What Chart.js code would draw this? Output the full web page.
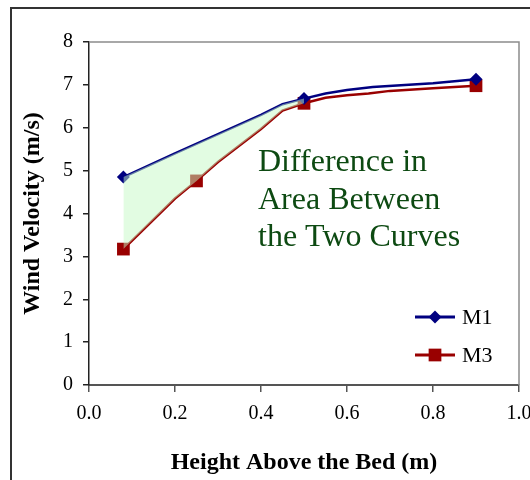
<!DOCTYPE html>
<html>
<head>
<meta charset="utf-8">
<script src="https://cdn.jsdelivr.net/npm/chart.js@4/dist/chart.umd.min.js"></script>
<style>
  body { margin: 0; background: #fff; }
  canvas { display: block; }
</style>
</head>
<body>
<canvas id="chart" width="530" height="480"></canvas>
<script>
// data
const m1X = [0.08, 0.2, 0.3, 0.4, 0.45, 0.5, 0.55, 0.6, 0.66, 0.8, 0.9];
const m1Y = [4.85, 5.4, 5.85, 6.3, 6.55, 6.68, 6.8, 6.88, 6.95, 7.04, 7.13];
const m1Markers = [0.08, 0.5, 0.9];

const m3X = [0.08, 0.2, 0.25, 0.3, 0.4, 0.45, 0.5, 0.55, 0.6, 0.65, 0.7, 0.8, 0.9];
const m3Y = [3.17, 4.35, 4.76, 5.2, 5.97, 6.4, 6.57, 6.7, 6.76, 6.8, 6.86, 6.92, 6.98];
const m3Markers = [0.08, 0.25, 0.5, 0.9];

const shadeEnd = 0.5; // shaded region runs from the first point to here
const xTicks = [0, 0.2, 0.4, 0.6, 0.8, 1.0];
const yTicks = [0, 1, 2, 3, 4, 5, 6, 7, 8];
const noteLines = ["Difference in", "Area Between", "the Two Curves"];

const SERIF = "'Liberation Serif', 'Times New Roman', serif";

function pts(xs, ys) {
    return xs.map((x, i) => ({ x: x, y: ys[i] }));
}

// marker only where the picture shows one
function radii(xs, marks, r) {
    return xs.map(x => marks.includes(x) ? r : 0);
}

const m1 = {
    label: "M1",
    data: pts(m1X, m1Y),
    borderColor: "#000080",
    backgroundColor: "#000080",
    borderWidth: 2.5,
    pointStyle: "rectRot",
    pointRadius: radii(m1X, m1Markers, 6.5),
    pointBorderWidth: 0,
    fill: false,
    order: 1
};
const m3 = {
    label: "M3",
    data: pts(m3X, m3Y),
    borderColor: "#990000",
    backgroundColor: "#990000",
    borderWidth: 2.5,
    pointStyle: "rect",
    pointRadius: radii(m3X, m3Markers, 9),
    pointBorderWidth: 0,
    fill: false,
    order: 2
};

// boundaries of the shaded region, taken from the two series
// drawn last and half transparent so the markers under it get tinted
const shadeTop = {
    label: "_top",
    data: pts(m1X, m1Y).filter(p => p.x <= shadeEnd),
    borderWidth: 0,
    pointRadius: 0,
    backgroundColor: "rgba(198,250,198,0.5)",
    fill: "+1",
    order: 0
};
const shadeBottom = {
    label: "_bottom",
    data: pts(m3X, m3Y).filter(p => p.x <= shadeEnd),
    borderWidth: 0,
    pointRadius: 0,
    fill: false,
    order: 4
};

/* ===== frame, plot border, note text and legend ===== */
const decorations = {
    id: "decorations",
    beforeDraw(chart) {
        const ctx = chart.ctx;
        ctx.save();
        ctx.fillStyle = "#fff";
        ctx.fillRect(0, 0, chart.width, chart.height);
        // outer frame
        ctx.strokeStyle = "#333";
        ctx.lineWidth = 2;
        ctx.beginPath();
        ctx.moveTo(11, chart.height + 5);
        ctx.lineTo(11, 8);
        ctx.lineTo(chart.width + 5, 8);
        ctx.stroke();
        ctx.restore();
    },
    afterDatasetsDraw(chart) {
        const ctx = chart.ctx;
        const a = chart.chartArea;
        ctx.save();
        // grey top and right border of the plot
        ctx.strokeStyle = "#8c8c8c";
        ctx.lineWidth = 1.5;
        ctx.beginPath();
        ctx.moveTo(a.left, a.top);
        ctx.lineTo(a.right, a.top);
        ctx.lineTo(a.right, a.bottom);
        ctx.stroke();

        // note text
        ctx.fillStyle = "#0d4a12";
        ctx.font = "32px " + SERIF;
        ctx.textBaseline = "middle";
        ctx.textAlign = "left";
        noteLines.forEach((t, i) => ctx.fillText(t, 258, 163 + i * 37.5));

        // legend
        const items = [m1, m3];
        ctx.font = "22px " + SERIF;
        items.forEach((ds, i) => {
            const y = 317 + i * 38;
            ctx.strokeStyle = ds.borderColor;
            ctx.lineWidth = 3;
            ctx.beginPath();
            ctx.moveTo(415, y);
            ctx.lineTo(455, y);
            ctx.stroke();
            ctx.fillStyle = ds.backgroundColor;
            Chart.helpers.drawPoint(ctx, { pointStyle: ds.pointStyle, radius: ds.pointStyle === "rect" ? 9 : 6.5, borderWidth: 0 }, 435, y);
            ctx.fillStyle = "#000";
            ctx.fillText(ds.label, 462, y + 1);
        });
        ctx.restore();
    }
};

new Chart(document.getElementById("chart"), {
    type: "line",
    data: { datasets: [m1, m3, shadeTop, shadeBottom] },
    options: {
        responsive: false,
        animation: false,
        devicePixelRatio: 1,
        layout: { padding: { left: 0, top: 42, right: 11, bottom: 0 } },
        plugins: { legend: { display: false }, tooltip: { enabled: false } },
        elements: { line: { tension: 0 } },
        scales: {
            x: {
                type: "linear",
                min: 0,
                max: 1,
                afterBuildTicks: s => { s.ticks = xTicks.map(v => ({ value: v })); },
                afterFit: s => { s.height = 95; s.paddingLeft = 0; s.paddingRight = 0; },
                border: { display: true, color: "#555", width: 2 },
                grid: { drawOnChartArea: false, drawTicks: true, tickLength: 7, tickColor: "#555", lineWidth: 1.5 },
                ticks: {
                    color: "#000",
                    padding: 10,
                    maxRotation: 0,
                    font: { family: SERIF, size: 20 },
                    callback: v => v.toFixed(1)
                },
                title: {
                    display: true,
                    text: "Height Above the Bed (m)",
                    color: "#000",
                    font: { family: SERIF, size: 24, weight: "bold" },
                    padding: { top: 0, bottom: 3 }
                }
            },
            y: {
                min: 0,
                max: 8,
                afterBuildTicks: s => { s.ticks = yTicks.map(v => ({ value: v })); },
                afterFit: s => { s.width = 89; s.paddingTop = 0; s.paddingBottom = 0; },
                border: { display: true, color: "#222", width: 1.5 },
                grid: { drawOnChartArea: false, drawTicks: true, tickLength: 6, tickColor: "#222", lineWidth: 1.5 },
                ticks: {
                    color: "#000",
                    padding: 10,
                    font: { family: SERIF, size: 20 }
                },
                title: {
                    display: true,
                    text: "Wind Velocity (m/s)",
                    color: "#000",
                    font: { family: SERIF, size: 24, weight: "bold" },
                    padding: { top: 18, bottom: 0 }
                }
            }
        }
    },
    plugins: [decorations]
});
</script>
</body>
</html>
